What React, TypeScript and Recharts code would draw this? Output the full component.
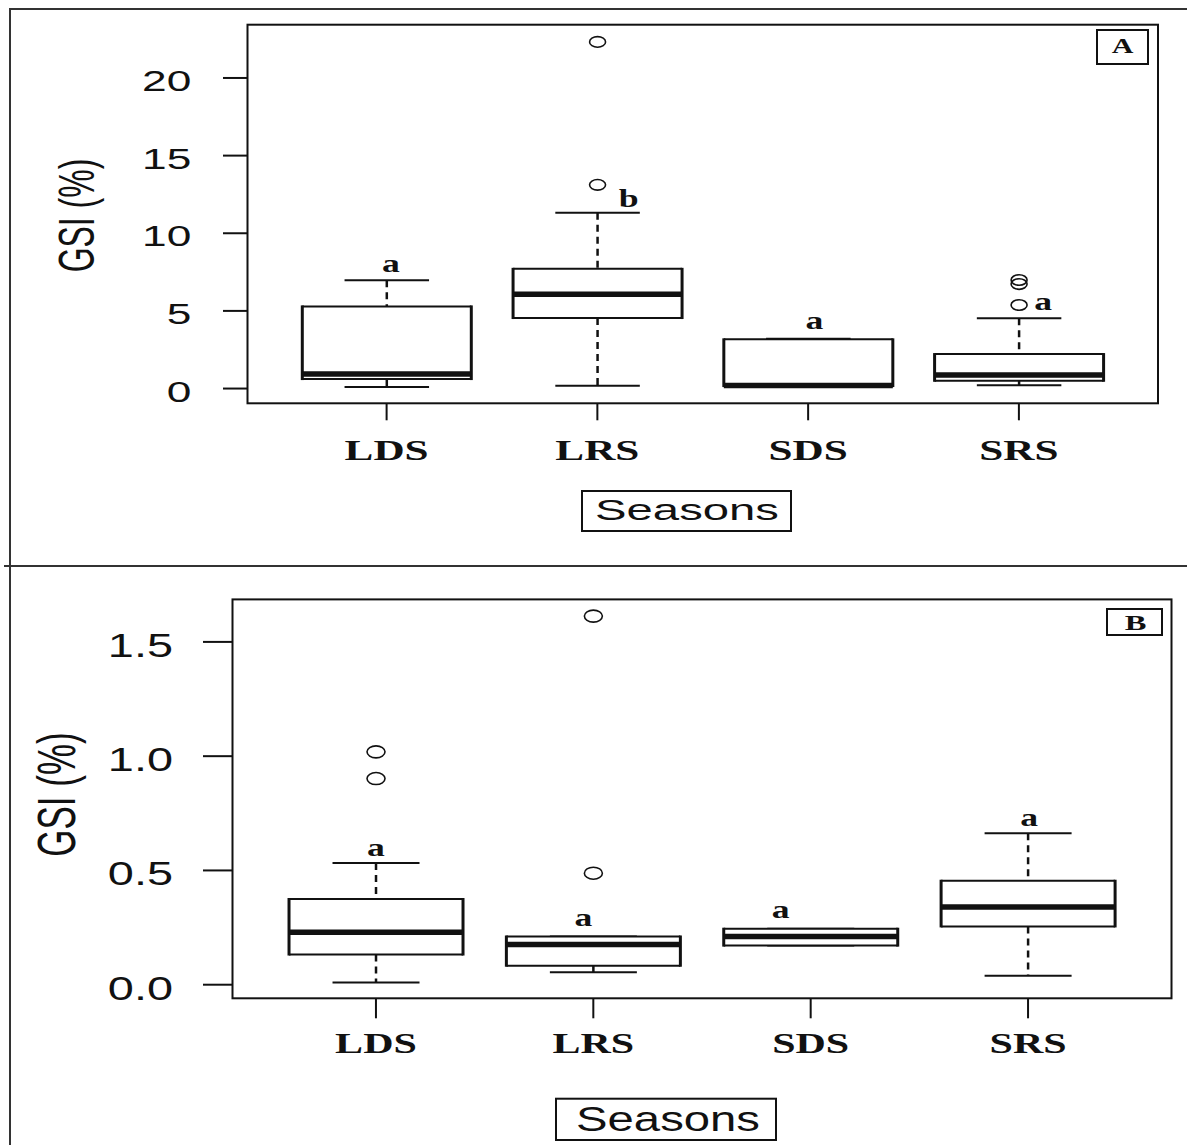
import { ComposedChart, Bar, XAxis, YAxis } from "recharts";

const seasons = ["LDS", "LRS", "SDS", "SRS"];

// panel A
const aLow = [0.1, 0.18, 0.16, 0.21];
const aQ1 = [0.61, 4.54, 0.16, 0.5];
const aMed = [0.93, 6.07, 0.2, 0.87];
const aQ3 = [5.29, 7.71, 3.17, 2.22];
const aHigh = [6.97, 11.32, 3.2, 4.52];
const aOutliers = [[], [13.12, 22.32], [], [5.38, 6.73, 6.99]];
const aLetters = ["a", "b", "a", "a"];
const aTicks = [0, 5, 10, 15, 20];

// panel B
const bLow = [0.01, 0.054, 0.171, 0.039];
const bQ1 = [0.132, 0.083, 0.171, 0.255];
const bMed = [0.229, 0.176, 0.211, 0.34];
const bQ3 = [0.375, 0.211, 0.245, 0.455];
const bHigh = [0.532, 0.211, 0.245, 0.663];
const bOutliers = [[0.902, 1.019], [0.488, 1.613], [], []];
const bLetters = ["a", "a", "a", "a"];
const bTicks = [0, 0.5, 1, 1.5];

const INK = "#111";
const SANS = "'Liberation Sans', Arial, sans-serif";
const SERIF = "'Liberation Serif', 'Times New Roman', serif";

function rows(low, q1, med, q3, high, outliers, letters) {
  return seasons.map((s, i) => ({
    season: s,
    low: low[i],
    q1: q1[i],
    med: med[i],
    q3: q3[i],
    high: high[i],
    outliers: outliers[i],
    letter: letters[i],
    idx: i,
  }));
}

const PANEL_A = {
  data: rows(aLow, aQ1, aMed, aQ3, aHigh, aOutliers, aLetters),
  ticks: aTicks,
  fmt: (v: number) => String(v),
  domain: [-0.95, 23.43],
  top: 0,
  height: 565,
  plotTop: 24.7,
  plotBottom: 403.3,
  plotLeft: 247.5,
  plotRight: 1158,
  yTick: { size: 24.5, margin: 31.7, fs: 29.5, sx: 1.5, dy: 13 },
  xTick: { size: 17, margin: 40, fs: 30, sx: 1.44 },
  yLabel: { x: 94, y: 215.5, fs: 32, sx: 1.55 },
  seasons: { x: 582, y: 491, w: 209, h: 40, fs: 29, sx: 1.63, tx: 687, ty: 520 },
  tag: { text: "A", x: 1097, y: 30, w: 51, h: 34, fs: 21, sx: 1.43, tx: 1122.5, ty: 53 },
  letterDx: [4, 31, 6, 24],
  letterDy: [-8, -6, -10, -8],
  letterFs: 25.5,
  out: { rx: 8, ry: 5.3 },
};

const PANEL_B = {
  data: rows(bLow, bQ1, bMed, bQ3, bHigh, bOutliers, bLetters),
  ticks: bTicks,
  fmt: (v: number) => v.toFixed(1),
  domain: [-0.0595, 1.686],
  top: 565,
  height: 580,
  plotTop: 599.4,
  plotBottom: 998.3,
  plotLeft: 232.5,
  plotRight: 1171.5,
  yTick: { size: 29.5, margin: 30, fs: 33, sx: 1.42, dy: 14.8 },
  xTick: { size: 20, margin: 35, fs: 30, sx: 1.4 },
  yLabel: { x: 75, y: 794.5, fs: 35, sx: 1.55 },
  seasons: { x: 556, y: 1098.7, w: 220, h: 41.3, fs: 35, sx: 1.35, tx: 668, ty: 1131 },
  tag: { text: "B", x: 1107, y: 609, w: 55, h: 26, fs: 21, sx: 1.55, tx: 1135.5, ty: 630 },
  letterDx: [0, -10, -30, 1],
  letterDy: [-7, -10.5, -11, -7],
  letterFs: 25.5,
  out: { rx: 9, ry: 6 },
};

function BoxShape(props: any) {
  const { x, y, width, height, payload, cfg } = props;
  if (!payload || !isFinite(y) || !isFinite(height)) return null;
  const { low, q1, med, q3, high, outliers, letter, idx } = payload;
  const top = height >= 0 ? y : y + height;
  const h = Math.abs(height);
  const py = (v: number) => top + ((high - v) / (high - low)) * h;
  const cx = x + width / 2;
  const half = width / 4;
  const yH = py(high);
  const yL = py(low);
  const y3 = py(q3);
  const y1 = py(q1);
  const ym = py(med);
  return (
    <g>
      {high > q3 && (
        <line x1={cx} x2={cx} y1={yH} y2={y3} stroke={INK} strokeWidth={2.5} strokeDasharray="7 5" />
      )}
      {low < q1 && (
        <line x1={cx} x2={cx} y1={y1} y2={yL} stroke={INK} strokeWidth={2.5} strokeDasharray="7 5" />
      )}
      <line x1={cx - half} x2={cx + half} y1={yH} y2={yH} stroke={INK} strokeWidth={2} />
      <line x1={cx - half} x2={cx + half} y1={yL} y2={yL} stroke={INK} strokeWidth={2} />
      <rect x={x} y={y3} width={width} height={y1 - y3} fill="#fff" />
      <line x1={x} x2={x + width} y1={y3} y2={y3} stroke={INK} strokeWidth={2} />
      <line x1={x} x2={x + width} y1={y1} y2={y1} stroke={INK} strokeWidth={2} />
      <line x1={x} x2={x} y1={y3 - 1} y2={y1 + 1} stroke={INK} strokeWidth={3} />
      <line x1={x + width} x2={x + width} y1={y3 - 1} y2={y1 + 1} stroke={INK} strokeWidth={3} />
      <line x1={x} x2={x + width} y1={ym} y2={ym} stroke={INK} strokeWidth={5.5} />
      {outliers.map((v: number, k: number) => (
        <ellipse key={k} cx={cx} cy={py(v)} rx={cfg.out.rx} ry={cfg.out.ry} fill="none" stroke={INK} strokeWidth={1.6} />
      ))}
      <text
        transform={`translate(${cx + cfg.letterDx[idx]},${yH + cfg.letterDy[idx]}) scale(1.4,1)`}
        textAnchor="middle"
        fontFamily={SERIF}
        fontWeight="bold"
        fontSize={cfg.letterFs}
        fill={INK}
      >
        {letter}
      </text>
    </g>
  );
}

function Panel({ cfg }: { cfg: any }) {
  const W = 1187;
  const plotW = cfg.plotRight - cfg.plotLeft;
  const pad = plotW * 0.037037;
  const yAxisW = 100;
  const xAxisH = 80;
  const off = cfg.top;
  const margin = {
    top: cfg.plotTop - off,
    left: cfg.plotLeft - yAxisW,
    right: W - cfg.plotRight,
    bottom: cfg.height - (cfg.plotBottom - off) - xAxisH,
  };
  const s = cfg.seasons;
  const t = cfg.tag;
  return (
    <ComposedChart width={W} height={cfg.height} data={cfg.data} margin={margin} barCategoryGap="10%">
      <XAxis
        dataKey="season"
        type="category"
        interval={0}
        height={xAxisH}
        padding={{ left: pad, right: pad }}
        axisLine={false}
        stroke={INK}
        tickLine={{ stroke: INK, strokeWidth: 2 }}
        tickSize={cfg.xTick.size}
        tickMargin={cfg.xTick.margin}
        tick={(p: any) => (
          <text
            transform={`translate(${p.x},${p.y}) scale(${cfg.xTick.sx},1)`}
            textAnchor="middle"
            fontFamily={SERIF}
            fontWeight="bold"
            fontSize={cfg.xTick.fs}
            fill={INK}
          >
            {p.payload.value}
          </text>
        )}
      />
      <YAxis
        type="number"
        domain={cfg.domain}
        ticks={cfg.ticks}
        width={yAxisW}
        axisLine={false}
        stroke={INK}
        tickLine={{ stroke: INK, strokeWidth: 2 }}
        tickSize={cfg.yTick.size}
        tickMargin={cfg.yTick.margin}
        tick={(p: any) => (
          <text
            transform={`translate(${p.x},${p.y + cfg.yTick.dy}) scale(${cfg.yTick.sx},1)`}
            textAnchor="end"
            fontFamily={SANS}
            fontSize={cfg.yTick.fs}
            fill={INK}
          >
            {cfg.fmt(p.payload.value)}
          </text>
        )}
      />
      <Bar
        dataKey={(d: any) => [d.low, d.high]}
        isAnimationActive={false}
        shape={(p: any) => <BoxShape {...p} cfg={cfg} />}
      />
      <rect
        x={cfg.plotLeft}
        y={cfg.plotTop - off}
        width={plotW}
        height={cfg.plotBottom - cfg.plotTop}
        fill="none"
        stroke={INK}
        strokeWidth={2}
      />
      <text
        transform={`translate(${cfg.yLabel.x},${cfg.yLabel.y - off}) scale(${cfg.yLabel.sx},1) rotate(-90)`}
        textAnchor="middle"
        fontFamily={SANS}
        fontSize={cfg.yLabel.fs}
        fill={INK}
      >
        GSI (%)
      </text>
      <rect x={s.x} y={s.y - off} width={s.w} height={s.h} fill="#fff" stroke={INK} strokeWidth={2} />
      <text
        transform={`translate(${s.tx},${s.ty - off}) scale(${s.sx},1)`}
        textAnchor="middle"
        fontFamily={SANS}
        fontSize={s.fs}
        fill={INK}
      >
        Seasons
      </text>
      <rect x={t.x} y={t.y - off} width={t.w} height={t.h} fill="#fff" stroke={INK} strokeWidth={2} />
      <text
        transform={`translate(${t.tx},${t.ty - off}) scale(${t.sx},1)`}
        textAnchor="middle"
        fontFamily={SERIF}
        fontWeight="bold"
        fontSize={t.fs}
        fill={INK}
      >
        {t.text}
      </text>
    </ComposedChart>
  );
}

export default function App() {
  const line = { position: "absolute" as const, background: "#333" };
  return (
    <div
      style={{
        position: "absolute",
        left: 0,
        top: 0,
        width: 1187,
        height: 1145,
        background: "#fff",
        overflow: "hidden",
      }}
    >
      <div style={{ position: "absolute", left: 0, top: PANEL_A.top }}>
        <Panel cfg={PANEL_A} />
      </div>
      <div style={{ position: "absolute", left: 0, top: PANEL_B.top }}>
        <Panel cfg={PANEL_B} />
      </div>
      <div style={{ ...line, left: 9, top: 7.5, width: 1178, height: 2 }} />
      <div style={{ ...line, left: 9, top: 7.5, width: 2, height: 1138 }} />
      <div style={{ ...line, left: 4, top: 564.5, width: 1183, height: 2 }} />
    </div>
  );
}
